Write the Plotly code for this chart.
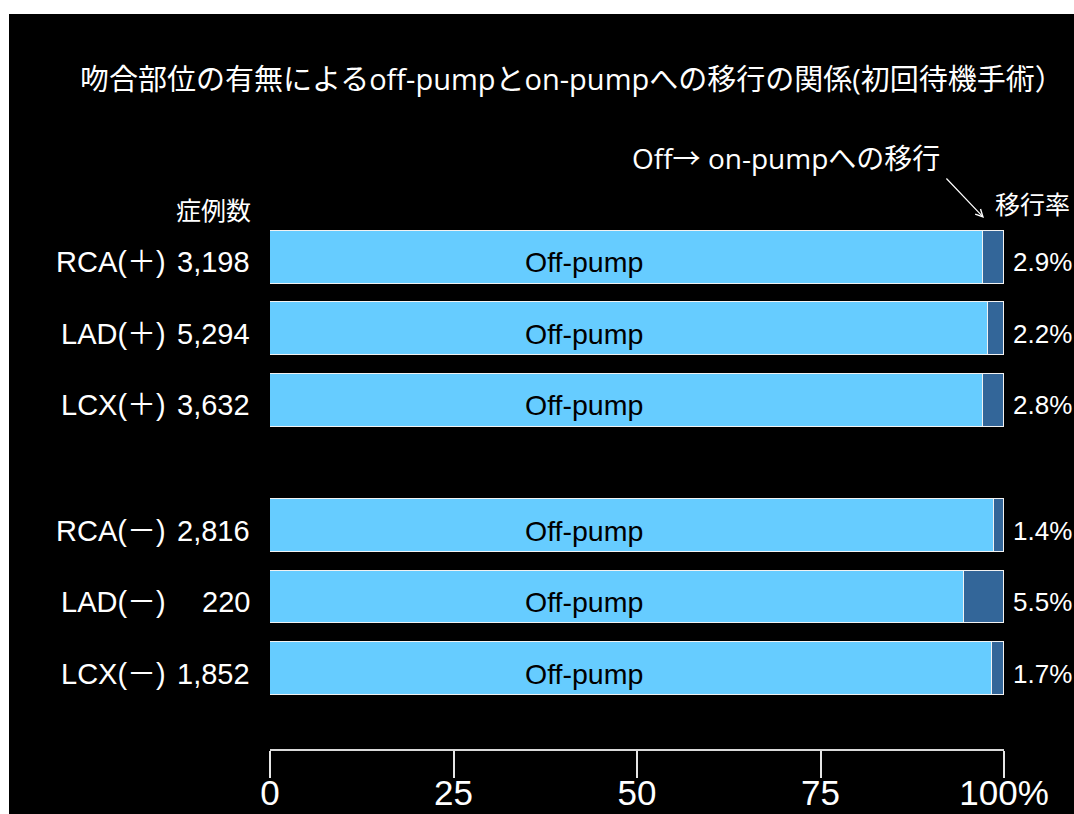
import plotly.graph_objects as go

# Rows: anastomosis site, case count, rate of conversion off-pump -> on-pump (%)
sites = ["RCA(＋)", "LAD(＋)", "LCX(＋)", "RCA(－)", "LAD(－)", "LCX(－)"]
case_counts = ["3,198", "5,294", "3,632", "2,816", "220", "1,852"]
conversion_rates = [2.9, 2.2, 2.8, 1.4, 5.5, 1.7]
off_pump_share = [round(100 - r, 1) for r in conversion_rates]
tick_values = [0, 25, 50, 75, 100]
tick_labels = ["0", "25", "50", "75", "100%"]

# Vertical slot of each row (gap between the two groups)
row_pos = [0, 1, 2, 3.75, 4.75, 5.75]

W, H = 1074, 814
L, R, T, B = 270, 70, 150, 65
PW, PH = W - L - R, H - T - B


def px(x):
    return (x - L) / PW


def py(y):
    return (H - B - y) / PH


LATIN = "Liberation Sans, Arial, Noto Sans CJK JP"
CJK = "Open Sans, Noto Sans CJK JP"

fig = go.Figure()
fig.add_trace(go.Bar(
    y=row_pos, x=off_pump_share, orientation="h", width=0.74,
    marker=dict(color="#66CCFF", line=dict(color="#F2F2F2", width=1.5)),
    name="Off-pump", hoverinfo="skip",
))
fig.add_trace(go.Bar(
    y=row_pos, x=conversion_rates, orientation="h", width=0.74,
    marker=dict(color="#336699", line=dict(color="#F2F2F2", width=1.5)),
    name="on-pump", hoverinfo="skip",
))

ann = []
for yp, site, n, rate in zip(row_pos, sites, case_counts, conversion_rates):
    ann.append(dict(x=px(168), xref="paper", y=yp, yref="y", text=site,
                    xanchor="right", yanchor="middle", yshift=-5, showarrow=False,
                    font=dict(family=LATIN, size=29, color="white")))
    ann.append(dict(x=px(252), xref="paper", y=yp, yref="y", text=n,
                    xanchor="right", yanchor="middle", yshift=-5, showarrow=False,
                    font=dict(family=LATIN, size=29, color="white")))
    ann.append(dict(x=px(584), xref="paper", y=yp, yref="y", text="Off-pump",
                    xanchor="center", yanchor="middle", yshift=-5, showarrow=False,
                    font=dict(family=LATIN, size=28.5, color="black")))
    ann.append(dict(x=px(1011), xref="paper", y=yp, yref="y", text=f"{rate}%",
                    xanchor="left", yanchor="middle", yshift=-5, showarrow=False,
                    font=dict(family=LATIN, size=26, color="white")))

# Title and headers
ann.append(dict(x=px(572), y=py(78), xref="paper", yref="paper",
                text="吻合部位の有無によるoff-pumpとon-pumpへの移行の関係(初回待機手術）",
                xanchor="center", yanchor="middle", showarrow=False,
                font=dict(family=CJK, size=29, color="white")))
ann.append(dict(x=px(786), y=py(158), xref="paper", yref="paper",
                text="Off→ on-pumpへの移行",
                xanchor="center", yanchor="middle", showarrow=False,
                font=dict(family=CJK, size=28, color="white")))
ann.append(dict(x=px(1032), y=py(204), xref="paper", yref="paper", text="移行率",
                xanchor="center", yanchor="middle", showarrow=False,
                font=dict(family=CJK, size=25, color="white")))
ann.append(dict(x=px(213), y=py(210), xref="paper", yref="paper", text="症例数",
                xanchor="center", yanchor="middle", showarrow=False,
                font=dict(family=CJK, size=25, color="white")))
# Pointer to the conversion segment
ann.append(dict(x=px(984), y=py(218), xref="paper", yref="paper", text="",
                showarrow=True, ax=-39, ay=-41, arrowhead=5, arrowsize=1.2,
                arrowwidth=1.2, arrowcolor="white"))

fig.update_layout(
    width=W, height=H, autosize=False,
    margin=dict(l=L, r=R, t=T, b=B, pad=0, autoexpand=False),
    paper_bgcolor="white", plot_bgcolor="black",
    barmode="stack", showlegend=False, bargap=0,
    annotations=ann,
    shapes=[dict(type="rect", xref="paper", yref="paper", layer="below",
                 x0=px(9), x1=px(W + 5), y0=py(H + 5), y1=py(14),
                 fillcolor="black", line=dict(width=0))],
    xaxis=dict(range=[0, 100], tickvals=tick_values, ticktext=tick_labels,
               showgrid=False, zeroline=False, showline=True, automargin=False,
               linecolor="#D9D9D9", linewidth=1.5,
               ticks="outside", ticklen=27, tickwidth=1.5, tickcolor="#E6E6E6",
               ticklabelstandoff=-15,
               tickfont=dict(family=LATIN, size=35, color="white"),
               fixedrange=True),
    yaxis=dict(range=[6.876, -1.503], showticklabels=False, showgrid=False,
               zeroline=False, showline=False, ticks="", automargin=False,
               fixedrange=True),
)

fig.write_html("out.html")
